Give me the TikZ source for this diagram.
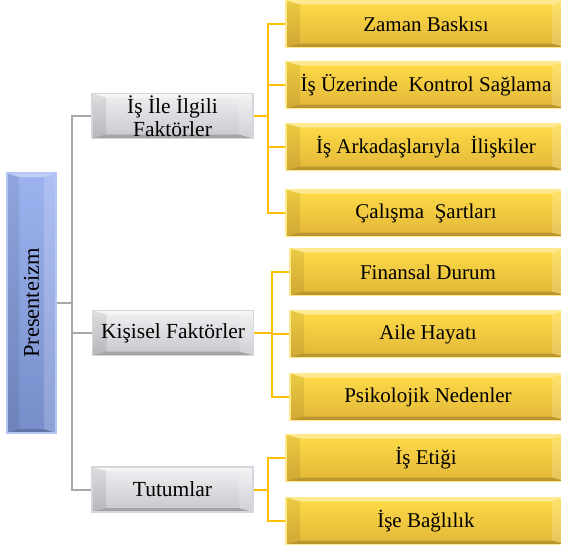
\documentclass[tikz,border=0pt]{standalone}
\usepackage{fontspec}
\setmainfont{Liberation Serif}
\newfontfamily\boxfont{Liberation Serif}
\begin{document}
\begin{tikzpicture}[x=1pt,y=-1pt,
  font=\boxfont\fontsize{21}{24}\selectfont,
  bevel/.style={path picture={
    \path (path picture bounding box.north west) coordinate (pnw)
          (path picture bounding box.south east) coordinate (pse);
    \fill[white,opacity=.40] (pnw) -- (pnw -| pse) -- ([xshift=-#1pt,yshift=-4pt]pnw -| pse)
        -- ([xshift=#1pt,yshift=-4pt]pnw) -- cycle;
    \fill[black,opacity=.08] (pnw) -- ([xshift=#1pt,yshift=-4pt]pnw)
        -- ([xshift=#1pt,yshift=4pt]pnw |- pse) -- (pnw |- pse) -- cycle;
    \fill[black,opacity=.18] (pnw |- pse) -- (pse) -- ([xshift=-#1pt,yshift=4pt]pse)
        -- ([xshift=#1pt,yshift=4pt]pnw |- pse) -- cycle;
    \fill[white,opacity=.18] (pse) -- (pnw -| pse) -- ([xshift=-#1pt,yshift=-4pt]pnw -| pse)
        -- ([xshift=-#1pt,yshift=4pt]pse) -- cycle;
  }},
  rootbox/.style={rectangle, inner sep=0pt, minimum width=49pt, minimum height=260pt,
    top color=rootblue!85!white, bottom color=rootblue!85!black,
    draw=rootedge, line width=1.5pt, bevel=12},
  catbox/.style={rectangle, inner sep=0pt, minimum width=161pt, minimum height=45pt,
    align=center, font=\boxfont\fontsize{21.5}{21.5}\selectfont,
    top color=catgray!40!white, bottom color=catgray!90!black,
    draw=catedge, line width=1.5pt, bevel=14},
  itembox/.style={rectangle, inner sep=0pt, minimum width=280pt, minimum height=47pt,
    top color=goldtop, bottom color=goldbottom,
    draw=goldedge, line width=1.5pt, bevel=14},
  gline/.style={draw=linegray, line width=2pt},
  yline/.style={draw=lineyellow, line width=2pt}
]
\definecolor{rootblue}{HTML}{8CA6EE}
\definecolor{rootedge}{HTML}{B4C6F6}
\definecolor{catgray}{HTML}{DCDCE2}
\definecolor{catedge}{HTML}{D6D6DC}
\definecolor{goldtop}{HTML}{FFDC48}
\definecolor{goldbottom}{HTML}{E2B638}
\definecolor{goldedge}{HTML}{FFE98C}
\definecolor{linegray}{HTML}{A8A8A8}
\definecolor{lineyellow}{HTML}{FFC000}

\clip (0,0) rectangle (561,547);
\fill[white] (0,0) rectangle (561,547);

% root
\node[rootbox] (root) at (31.5,303) {};
\node[rotate=90, font=\boxfont\fontsize{22.5}{24}\selectfont] (rootlabel) at (root.center) {Presenteizm};

% factor groups
\node[catbox] (g1) at (172.5,116) {İş İle İlgili\\[1pt]Faktörler};
\node[catbox] (g2) at (173,333) {Kişisel Faktörler};
\node[catbox] (g3) at (172.5,489.5) {Tutumlar};

% items
\node[itembox] (y1) at (426,24)  {Zaman  Baskısı};
\node[itembox] (y2) at (426,85)  {İş Üzerinde\ \ Kontrol Sağlama};
\node[itembox] (y3) at (426,147) {İş Arkadaşlarıyla\ \ İlişkiler};
\node[itembox] (y4) at (426,213) {Çalışma\ \ Şartları};
\node[itembox, minimum width=276pt] (y5) at (428,272) {Finansal Durum};
\node[itembox, minimum width=276pt] (y6) at (428,334) {Aile Hayatı};
\node[itembox, minimum width=276pt] (y7) at (428,397) {Psikolojik Nedenler};
\node[itembox] (y8) at (426,458) {İş Etiği};
\node[itembox] (y9) at (426,521) {İşe Bağlılık};

% connector spines
\coordinate (sp) at (72,0);
\coordinate (ya) at (268,0);
\coordinate (yb) at (272,0);

\draw[gline] (root.east) -- (root.east -| sp);
\draw[gline] (g1.west) -- (g1.west -| sp) -- (g3.west -| sp) -- (g3.west);
\draw[gline] (g2.west) -- (g2.west -| sp);

\draw[yline] (g1.east) -- (g1.east -| ya);
\draw[yline] (y1.west) -- (y1.west -| ya) -- (y4.west -| ya) -- (y4.west);
\draw[yline] (y2.west) -- (y2.west -| ya);
\draw[yline] (y3.west) -- (y3.west -| ya);

\draw[yline] (g2.east) -- (g2.east -| yb);
\draw[yline] (y5.west) -- (y5.west -| yb) -- (y7.west -| yb) -- (y7.west);
\draw[yline] (y6.west) -- (y6.west -| yb);

\draw[yline] (g3.east) -- (g3.east -| ya);
\draw[yline] (y8.west) -- (y8.west -| ya) -- (y9.west -| ya) -- (y9.west);
\end{tikzpicture}
\end{document}
